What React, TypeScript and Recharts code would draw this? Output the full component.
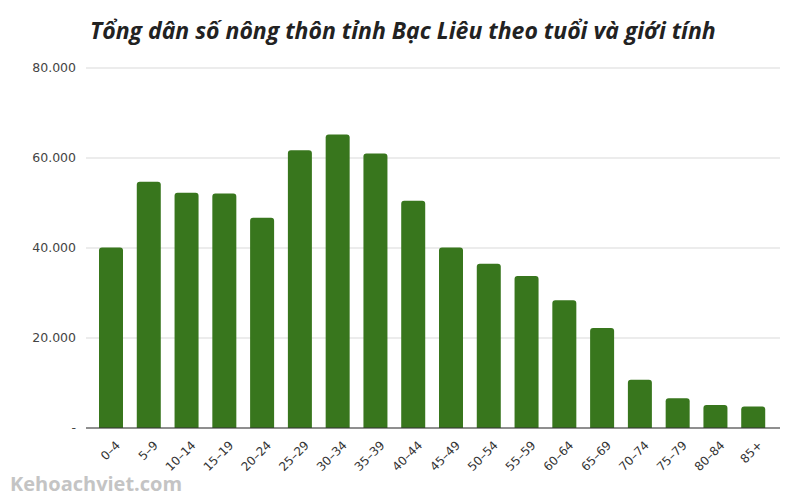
import { BarChart, Bar, XAxis, YAxis, CartesianGrid } from "recharts";

const ageGroups = [
  "0–4", "5–9", "10–14", "15–19", "20–24", "25–29", "30–34", "35–39", "40–44",
  "45–49", "50–54", "55–59", "60–64", "65–69", "70–74", "75–79", "80–84", "85+",
];
const population = [
  40100, 54700, 52300, 52100, 46700, 61700, 65200, 61000, 50500,
  40100, 36500, 33800, 28400, 22200, 10700, 6600, 5100, 4800,
];
const yTicks = [0, 20000, 40000, 60000, 80000];

const data = ageGroups.map((age, i) => ({ age, value: population[i] }));

const fmt = (v: number) => (v === 0 ? "-" : String(v).replace(/\B(?=(\d{3})+(?!\d))/g, "."));

const AgeTick = ({ x, y, payload }: any) => (
  <g transform={`translate(${x + 10}, ${y + 10})`}>
    <text transform="rotate(-45)" textAnchor="end" fontSize={12} fill="#333" fontFamily="'DejaVu Sans', sans-serif">
      {payload.value}
    </text>
  </g>
);

export default function App() {
  return (
    <div style={{ position: "absolute", left: 0, top: 0, width: 800, height: 500, background: "#fff" }}>
      <div
        style={{
          position: "absolute",
          left: 90,
          top: 14,
          fontFamily: "'Open Sans', sans-serif",
          fontStyle: "italic",
          fontWeight: 700,
          fontSize: 23,
          color: "#222",
          whiteSpace: "nowrap",
        }}
      >
        Tổng dân số nông thôn tỉnh Bạc Liêu theo tuổi và giới tính
      </div>
      <BarChart width={800} height={500} data={data} margin={{ top: 68, right: 20, bottom: 42, left: 0 }}>
        <CartesianGrid vertical={false} stroke="#d9d9d9" />
        <XAxis
          dataKey="age"
          height={30}
          axisLine={{ stroke: "#333" }}
          tickLine={false}
          interval={0}
          padding={{ left: 6, right: 8 }}
          tick={<AgeTick />}
        />
        <YAxis
          width={86}
          domain={[0, 80000]}
          ticks={yTicks}
          tickFormatter={fmt}
          axisLine={false}
          tickLine={false}
          tickMargin={4}
          tick={{ fontSize: 12.5, fill: "#444", fontFamily: "'DejaVu Sans', sans-serif" }}
        />
        <Bar dataKey="value" fill="#38761d" barSize={24} radius={[3, 3, 0, 0]} isAnimationActive={false} />
      </BarChart>
      <div
        style={{
          position: "absolute",
          left: 10,
          top: 470,
          fontFamily: "'Open Sans', sans-serif",
          fontWeight: 700,
          fontSize: 20,
          color: "#c4c4c4",
        }}
      >
        Kehoachviet.com
      </div>
    </div>
  );
}
